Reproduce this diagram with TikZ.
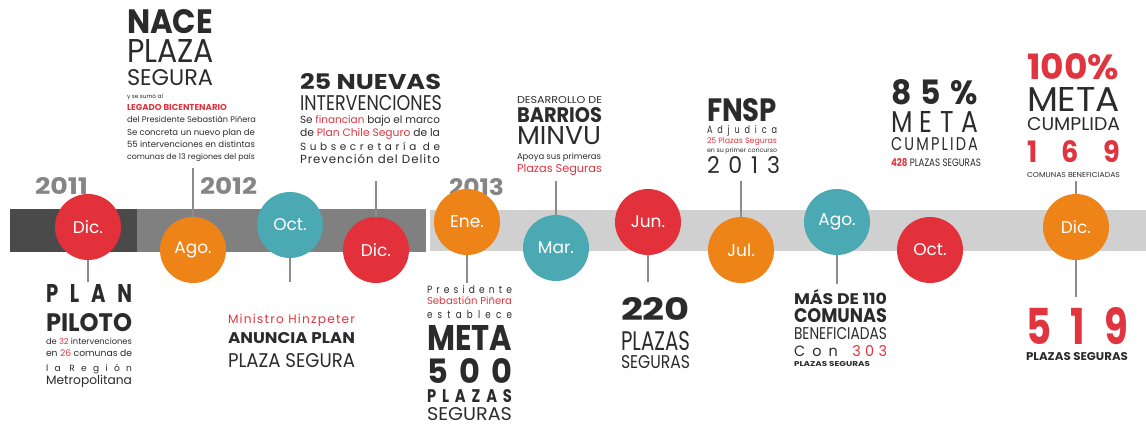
\documentclass[tikz,border=0pt]{standalone}
\usepackage{fontspec}
\setmainfont{Poppins}
\usepackage{graphicx}
\definecolor{cred}{HTML}{E2313B}
\definecolor{corange}{HTML}{EE8418}
\definecolor{cteal}{HTML}{4BA9B4}
\definecolor{ink}{HTML}{2B2B2B}
\definecolor{accent}{HTML}{E0353F}
\definecolor{yeargray}{HTML}{858585}
\definecolor{banddark}{HTML}{4A4A4A}
\definecolor{bandmid}{HTML}{808080}
\definecolor{bandlight}{HTML}{D0D0D0}
\definecolor{linegray}{HTML}{8C8C8C}
\newcommand\rb[3]{\resizebox{#1pt}{#2}{#3}}
\newcommand\ls[2]{{\addfontfeature{LetterSpace=#1}#2}}
\tikzset{
  txt/.style={anchor=base west, inner sep=0pt, outer sep=0pt, text=ink},
  yr/.style={anchor=base west, inner sep=0pt, outer sep=0pt, text=yeargray},
  circ/.style={circle, minimum size=66pt, inner sep=0pt, text=white, font=\fontsize{17}{17}\selectfont},
  conn/.style={draw=linegray, line width=2pt},
}
\begin{document}
\begin{tikzpicture}[x=1pt,y=-1pt]
\useasboundingbox (0,0) rectangle (1146,425);
% band
\fill[banddark] (10,209) rectangle (137,252);
\fill[bandmid] (137,209) rectangle (426,252);
\fill[bandlight] (430,210) rectangle (1146,251);
% years
\node[yr] (y1) at (35,195) {\rb{53}{17pt}{\bfseries 2011}};
\node[yr] (y2) at (200,195) {\rb{57}{17pt}{\bfseries 2012}};
\node[yr] (y3) at (449,195) {\rb{55}{17pt}{\bfseries 2013}};
% circles
\node[circ, fill=cred] (c1) at (88,227) {Dic.};
\node[circ, fill=corange] (c2) at (193,250) {Ago.};
\node[circ, fill=cteal] (c3) at (290,225) {Oct.};
\node[circ, fill=cred] (c4) at (376,250) {Dic.};
\node[circ, fill=corange] (c5) at (467,222) {Ene.};
\node[circ, fill=cteal] (c6) at (556,248) {Mar.};
\node[circ, fill=cred] (c7) at (648,222) {Jun.};
\node[circ, fill=corange] (c8) at (741,250) {Jul.};
\node[circ, fill=cteal] (c9) at (837,222) {Ago.};
\node[circ, fill=cred] (c10) at (930,250) {Oct.};
\node[circ, fill=corange] (c11) at (1076,227) {Dic.};
% connector ends
\coordinate (e1) at (88,282);
\coordinate (e2) at (193,168);
\coordinate (e3) at (290,282);
\coordinate (e4) at (376,181);
\coordinate (e5) at (467,283);
\coordinate (e6) at (556,181);
\coordinate (e7) at (648,282);
\coordinate (e8) at (741,181);
\coordinate (e9) at (837,284);
\coordinate (e11a) at (1076,181);
\coordinate (e11b) at (1076,297);
\draw[conn] (c1) -- (e1);
\draw[conn] (c2) -- (e2);
\draw[conn] (c3) -- (e3);
\draw[conn] (c4) -- (e4);
\draw[conn] (c5) -- (e5);
\draw[conn] (c6) -- (e6);
\draw[conn] (c7) -- (e7);
\draw[conn] (c8) -- (e8);
\draw[conn] (c9) -- (e9);
\draw[conn] (c11) -- (e11a);
\draw[conn] (c11) -- (e11b);
% Block 1
\node[txt] (a1) at (127,34) {\rb{86}{24pt}{\bfseries NACE}};
\node[txt] (a2) at (127,63) {\rb{87}{23pt}{PLAZA}};
\node[txt] (a3) at (127,86) {\rb{86}{16pt}{SEGURA}};
\node[txt] (a4) at (127,99) {\rb{36}{!}{y se sumó al}};
\node[txt] (a5) at (127,111) {\rb{100}{!}{\color{accent}\bfseries LEGADO BICENTENARIO}};
\node[txt] (a6) at (127,123) {\rb{129}{!}{del Presidente Sebastián Piñera}};
\node[txt] (a7) at (127,136) {\rb{128}{!}{Se concreta un nuevo plan de}};
\node[txt] (a8) at (127,148) {\rb{128}{!}{55 intervenciones en distintas}};
\node[txt] (a9) at (127,160) {\rb{128}{!}{comunas de 13 regiones del país}};
% Block 2
\node[txt] (b1) at (300,90) {\rb{141}{16pt}{\bfseries 25 NUEVAS}};
\node[txt] (b2) at (300,111) {\rb{142}{15pt}{INTERVENCIONES}};
\node[txt] (b3) at (300,124) {\rb{140}{!}{Se \textcolor{accent}{financian} bajo el marco}};
\node[txt] (b4) at (300,137) {\rb{140}{!}{de \textcolor{accent}{Plan Chile Seguro} de la}};
\node[txt] (b5) at (300,151) {\rb{140}{!}{\ls{35}{Subsecretaría de}}};
\node[txt] (b6) at (300,164) {\rb{140}{!}{\ls{8}{Prevención del Delito}}};
% Block 3
\node[txt] (d1) at (517,104) {\rb{85}{7pt}{DESARROLLO DE}};
\node[txt] (d2) at (517,123) {\rb{85}{15pt}{\bfseries BARRIOS}};
\node[txt] (d3) at (517,144) {\rb{84}{18pt}{MINVU}};
\node[txt] (d4) at (517,160) {\rb{84}{!}{Apoya sus primeras}};
\node[txt] (d5) at (517,173) {\rb{85}{!}{\color{accent}Plazas Seguras}};
% Block 4
\node[txt] (f1) at (707,122) {\rb{70}{23pt}{\bfseries FNSP}};
\node[txt] (f2) at (707,134) {\rb{70}{8pt}{\ls{60}{Adjudica}}};
\node[txt] (f3) at (707,144) {\rb{70}{!}{\color{accent}25 Plazas Seguras}};
\node[txt] (f4) at (707,153) {\rb{70}{!}{en su primer concurso}};
\node[txt] (f5) at (707,174) {\rb{73}{17pt}{\ls{40}{2013}}};
% Block 5
\node[txt] (g1) at (891,105) {\rb{87}{25pt}{\bfseries 8\hspace{0.3em}5\hspace{0.3em}\%}};
\node[txt] (g2) at (891,132) {\rb{87}{21pt}{\ls{30}{META}}};
\node[txt] (g3) at (891,150) {\rb{87}{13pt}{\ls{15}{CUMPLIDA}}};
\node[txt] (g4) at (891,167) {\rb{90}{8pt}{\textcolor{accent}{\bfseries 428} PLAZAS SEGURAS}};
% Block 6
\node[txt] (h1) at (1027,80) {\rb{92}{26pt}{\color{accent}\bfseries 100\%}};
\node[txt] (h2) at (1027,112) {\rb{93}{24pt}{META}};
\node[txt] (h3) at (1027,131) {\rb{93}{13pt}{CUMPLIDA}};
\node[txt] (h4) at (1027,163) {\rb{93}{22pt}{\color{accent}\bfseries 1\hspace{0.9em}6\hspace{0.9em}9}};
\node[txt] (h5) at (1027,177) {\rb{93}{5pt}{COMUNAS BENEFICIADAS}};
% Block 7
\node[txt] (i1) at (46,302) {\rb{86}{18pt}{\bfseries P\hspace{0.6em}L\hspace{0.6em}A\hspace{0.6em}N}};
\node[txt] (i2) at (46,331) {\rb{86}{18pt}{\bfseries PILOTO}};
\node[txt] (i3) at (46,344) {\rb{86}{!}{de \textcolor{accent}{32} intervenciones}};
\node[txt] (i4) at (46,356) {\rb{86}{!}{en \textcolor{accent}{26} comunas de}};
\node[txt] (i5) at (46,371) {\rb{86}{!}{\ls{70}{la Región}}};
\node[txt] (i6) at (46,384) {\rb{86}{!}{Metropolitana}};
% Block 8
\node[txt] (j1) at (228,323) {\rb{127}{!}{\color{accent}\ls{10}{Ministro Hinzpeter}}};
\node[txt] (j2) at (228,343) {\rb{127}{11pt}{\bfseries ANUNCIA PLAN}};
\node[txt] (j3) at (228,367) {\rb{127}{14pt}{PLAZA SEGURA}};
% Block 9
\node[txt] (k1) at (427,293) {\rb{85}{8pt}{\ls{45}{Presidente}}};
\node[txt] (k2) at (427,304) {\rb{85}{!}{\color{accent}Sebastián Piñera}};
\node[txt] (k3) at (427,318) {\rb{85}{8pt}{\ls{60}{establece}}};
\node[txt] (k4) at (427,350) {\rb{85}{25pt}{\bfseries META}};
\node[txt] (k5) at (427,383) {\rb{85}{25pt}{\bfseries 5\hspace{0.35em}0\hspace{0.35em}0}};
\node[txt] (k6) at (427,402) {\rb{85}{13pt}{\bfseries P\hspace{0.4em}L\hspace{0.4em}A\hspace{0.4em}Z\hspace{0.4em}A\hspace{0.4em}S}};
\node[txt] (k7) at (427,420) {\rb{85}{13pt}{SEGURAS}};
% Block 10
\node[txt] (l1) at (621,320) {\rb{69}{23pt}{\bfseries 220}};
\node[txt] (l2) at (621,350) {\rb{69}{19pt}{PLAZAS}};
\node[txt] (l3) at (621,368) {\rb{69}{13pt}{SEGURAS}};
% Block 11
\node[txt] (m1) at (794,304) {\rb{93}{15pt}{\bfseries MÁS DE 110}};
\node[txt] (m2) at (794,322) {\rb{93}{14pt}{\bfseries COMUNAS}};
\node[txt] (m3) at (794,339) {\rb{93}{12pt}{BENEFICIADAS}};
\node[txt] (m4) at (794,356) {\rb{93}{11pt}{C\hspace{0.5em}o\hspace{0.5em}n\hspace{1em}\textcolor{accent}{3\hspace{0.3em}0\hspace{0.3em}3}}};
\node[txt] (m5) at (794,366) {\rb{76}{5pt}{\bfseries PLAZAS SEGURAS}};
% Block 12
\node[txt] (n1) at (1026,344) {\rb{102}{37pt}{\color{accent}\bfseries 5\hspace{0.5em}1\hspace{0.5em}9}};
\node[txt] (n2) at (1026,360) {\rb{102}{8pt}{\bfseries PLAZAS SEGURAS}};
\end{tikzpicture}
\end{document}
